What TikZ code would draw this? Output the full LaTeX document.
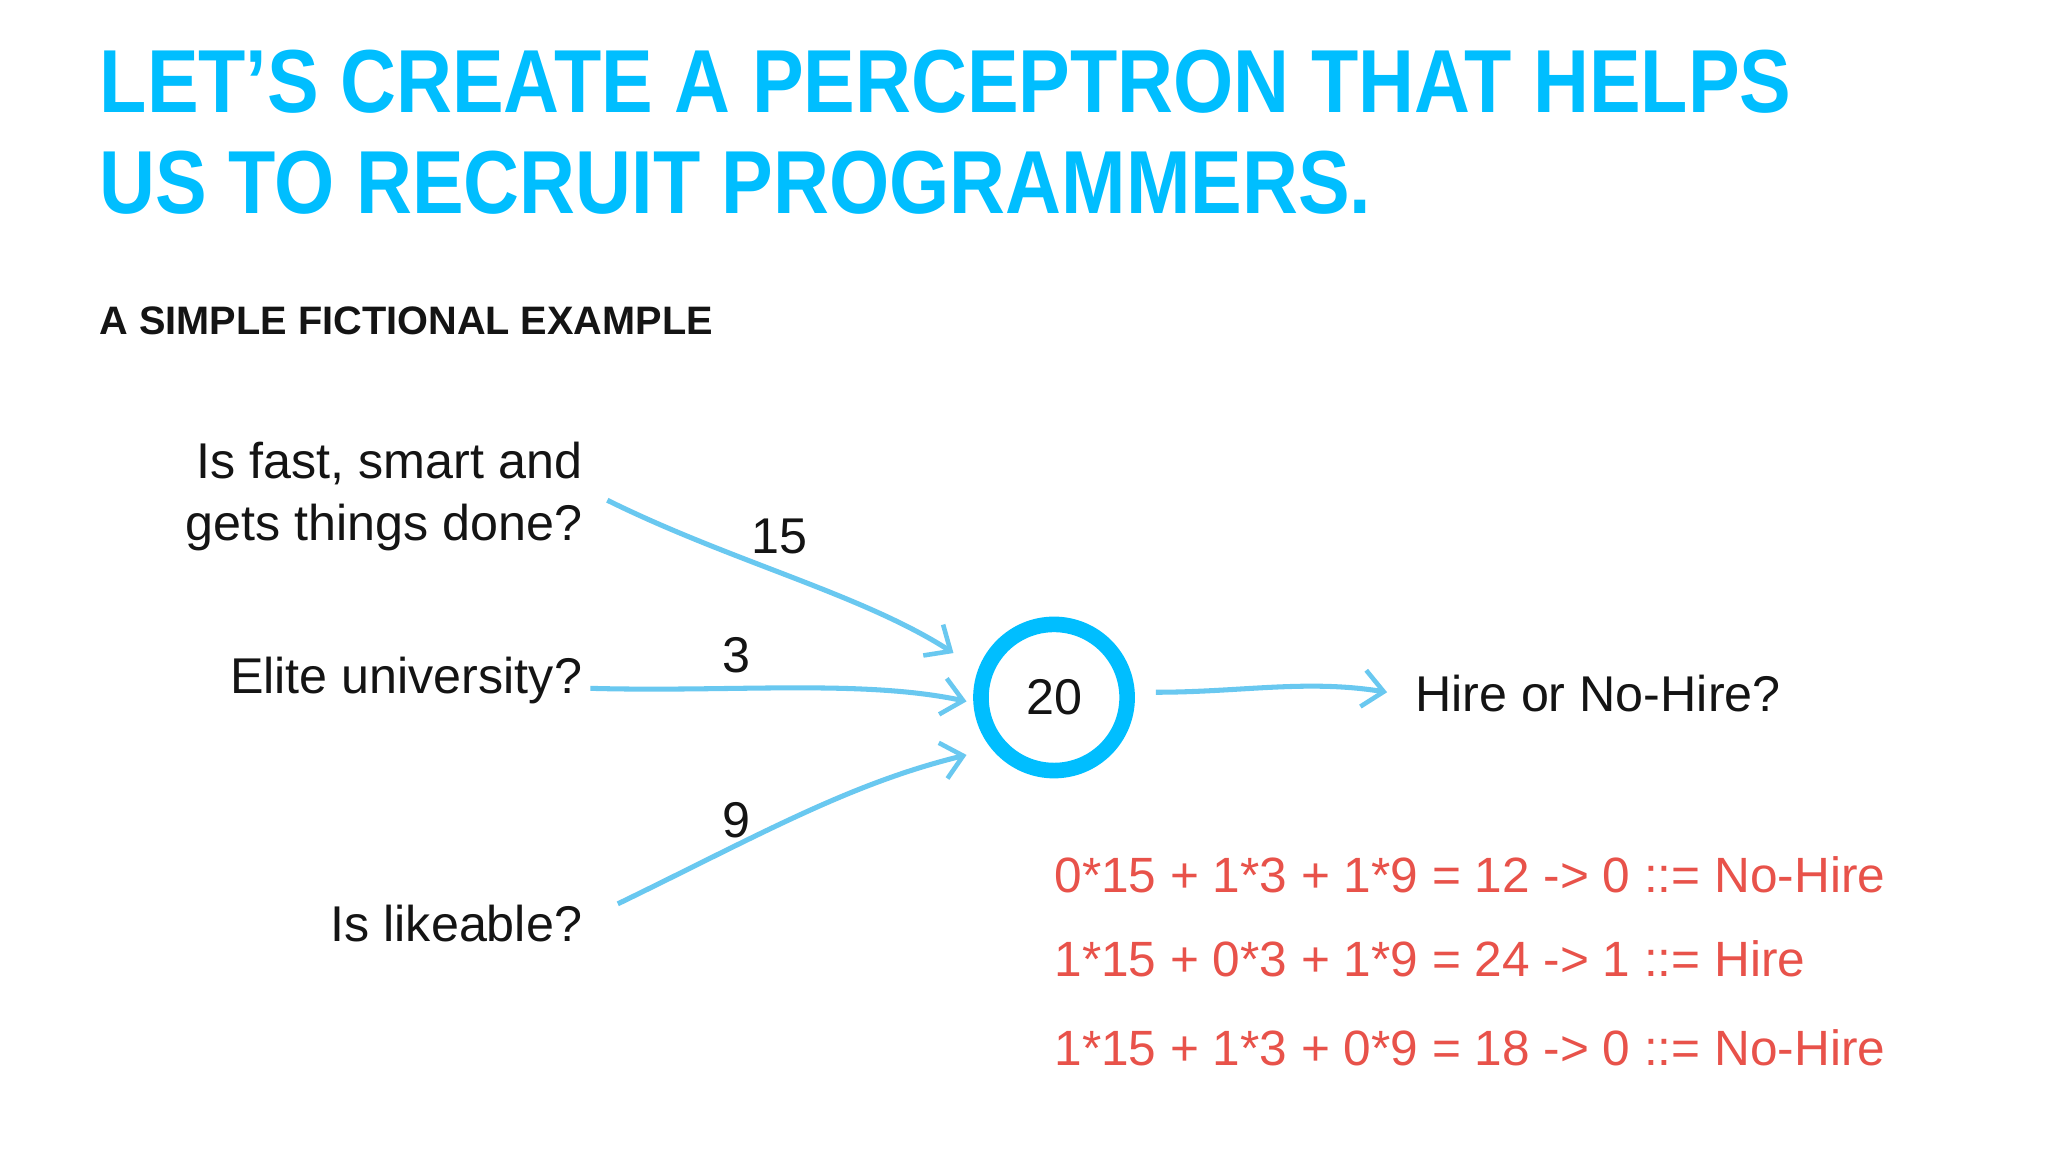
\documentclass[tikz,border=0pt]{standalone}
\usepackage{fontspec}
\setmainfont{Liberation Sans}
\usetikzlibrary{arrows.meta}
\definecolor{titleblue}{RGB}{0,190,255}
\definecolor{arrowblue}{RGB}{105,200,240}
\definecolor{calcred}{RGB}{232,82,74}
\definecolor{txt}{RGB}{20,20,20}
\tikzset{
  lbl/.style={font=\fontsize{21.9}{27}\selectfont, text=txt, inner sep=0pt},
  calc/.style={font=\fontsize{21.6}{27}\selectfont, text=calcred, anchor=west, inner sep=0pt},
  conn/.style={draw=arrowblue, line width=2.2pt, -{Straight Barb[length=9pt,width=16pt,line width=2pt]}}
}
\begin{document}
\begin{tikzpicture}[x=0.02cm,y=0.02cm]
\useasboundingbox (0,0) rectangle (1568,-882);
\fill[white] (0,0) rectangle (1568,-882);
\node[anchor=north west, inner sep=0pt, align=left, text=titleblue,
  font=\fontsize{39}{44}\selectfont\bfseries] (title) at (76,-38)
  {\scalebox{0.865}[1]{LET’S CREATE A PERCEPTRON THAT HELPS}\\\scalebox{0.865}[1]{US TO RECRUIT PROGRAMMERS.}};
\node[anchor=west, inner sep=0pt, text=txt, font=\fontsize{17.3}{20}\selectfont\bfseries] (sub) at (76,-246) {A SIMPLE FICTIONAL EXAMPLE};
\node[lbl, anchor=east, align=right] (in1) at (446,-380) {Is fast, smart and\\gets things done?};
\node[lbl, anchor=east] (in2) at (446,-521) {Elite university?};
\node[lbl, anchor=east] (in3) at (446,-707) {Is likeable?};
\node[circle, draw=titleblue, line width=6.8pt, minimum size=63.7pt, inner sep=0pt, lbl] (n) at (807,-534) {20};
\node[lbl, anchor=west] (out) at (1083,-531) {Hire or No-Hire?};
\node[lbl] (w1) at (597,-411) {15};
\node[lbl] (w2) at (564,-502) {3};
\node[lbl] (w3) at (564,-628) {9};
\coordinate (s1) at (465,-383);
\coordinate (s2) at (452,-527);
\coordinate (s3) at (473,-692);
\coordinate (e1) at (730,-500);
\coordinate (e2) at (740,-537);
\coordinate (e3) at (740,-578);
\coordinate (o1) at (885,-530);
\coordinate (o2) at (1062,-530);
\draw[conn] (s1) .. controls (560,-430) and (660,-455) .. (e1);
\draw[conn] (s2) .. controls (560,-530) and (660,-520) .. (e2);
\draw[conn] (s3) .. controls (580,-640) and (650,-600) .. (e3);
\draw[conn] (o1) .. controls (950,-530) and (1000,-520) .. (o2);
\node[calc] (c1) at (807,-670) {0*15 + 1*3 + 1*9 = 12 -> 0 ::= No-Hire};
\node[calc] (c2) at (807,-734) {1*15 + 0*3 + 1*9 = 24 -> 1 ::= Hire};
\node[calc] (c3) at (807,-802) {1*15 + 1*3 + 0*9 = 18 -> 0 ::= No-Hire};
\end{tikzpicture}
\end{document}
